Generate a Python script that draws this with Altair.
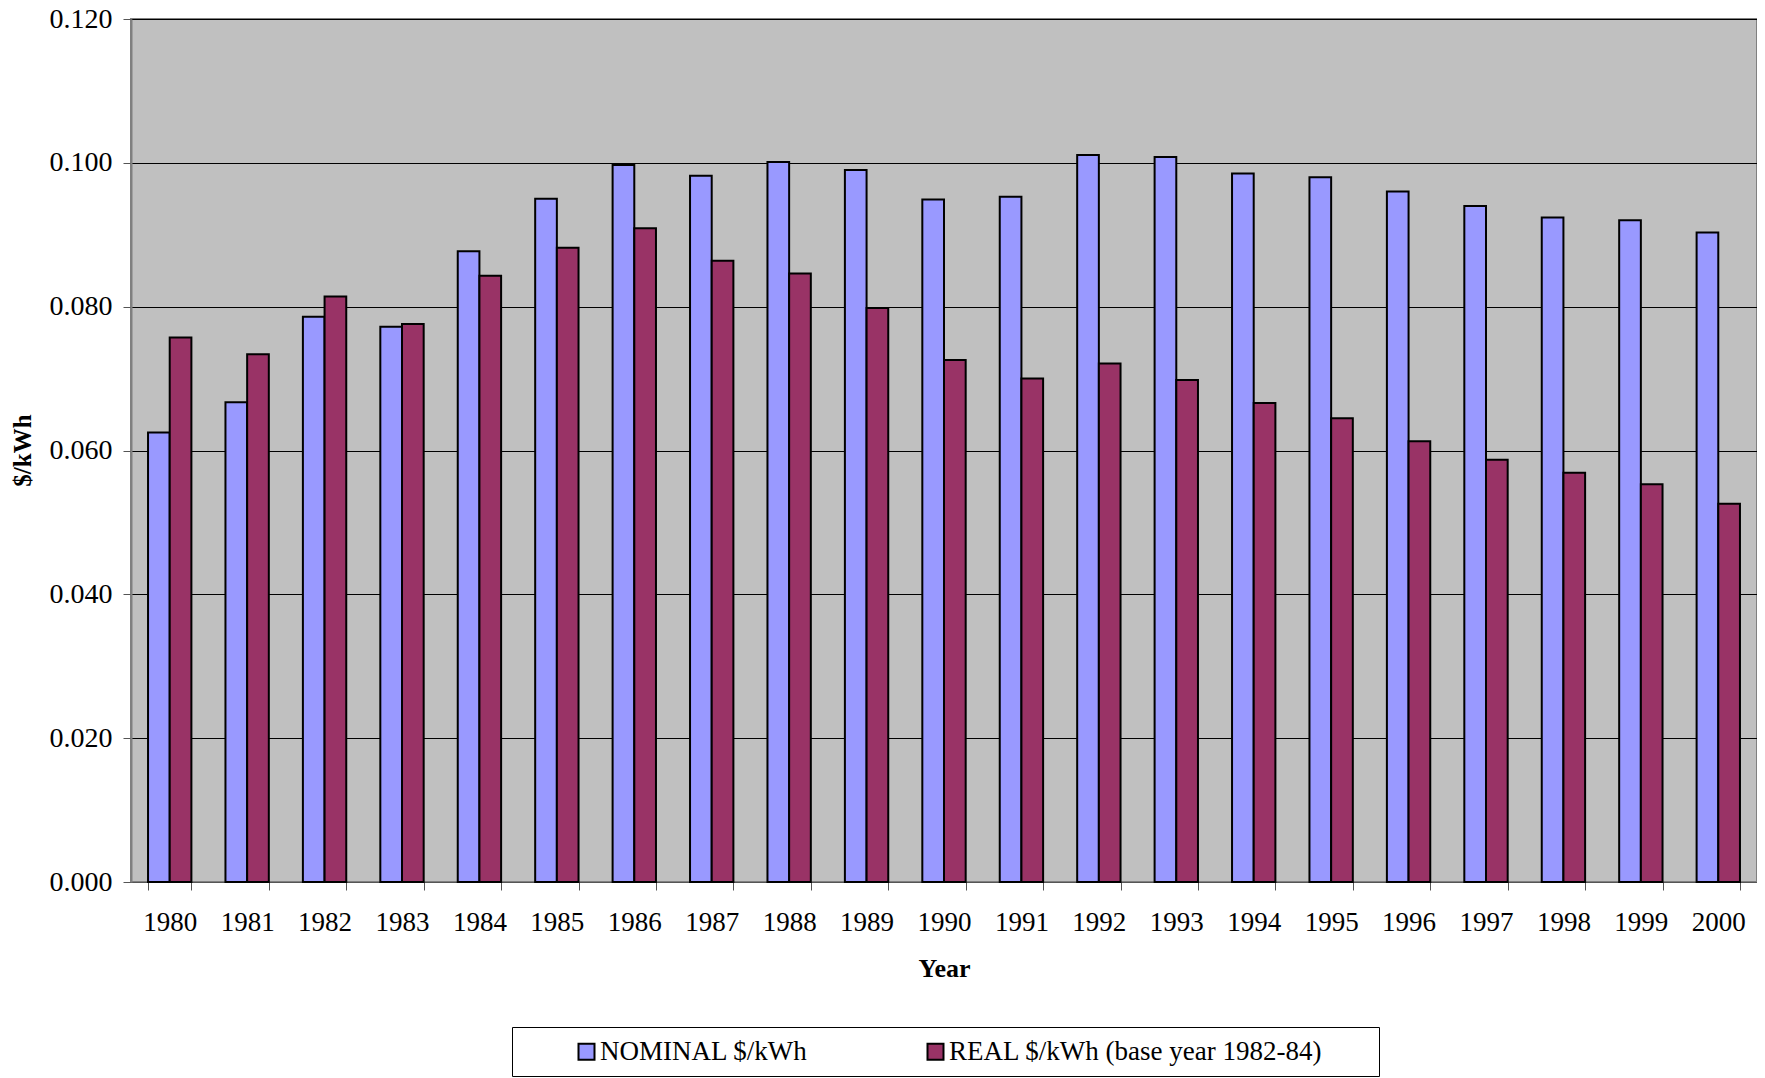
import altair as alt
import pandas as pd

years = [str(y) for y in range(1980, 2001)]
nominal = [0.0625, 0.0667, 0.0786, 0.0772, 0.0877, 0.0950, 0.0997, 0.0982, 0.1001, 0.0990,
           0.0949, 0.0953, 0.1011, 0.1008, 0.0985, 0.0980, 0.0960, 0.0940, 0.0924, 0.0920, 0.0903]
real = [0.0757, 0.0734, 0.0814, 0.0776, 0.0843, 0.0882, 0.0909, 0.0864, 0.0846, 0.0798,
        0.0726, 0.0700, 0.0721, 0.0698, 0.0666, 0.0645, 0.0613, 0.0587, 0.0569, 0.0553, 0.0526]
series = ["NOMINAL $/kWh", "REAL $/kWh (base year 1982-84)"]
colors = ["#9999FF", "#993366"]
y_ticks = [0.0, 0.02, 0.04, 0.06, 0.08, 0.10, 0.12]

rows = []
for i, yr in enumerate(years):
    rows.append({"Year": yr, "Series": series[0], "Value": nominal[i]})
    rows.append({"Year": yr, "Series": series[1], "Value": real[i]})
df = pd.DataFrame(rows)

FONT = "Liberation Serif"

chart = alt.Chart(df).mark_bar(stroke="black", strokeWidth=2).encode(
    x=alt.X("Year:N", sort=years,
            scale=alt.Scale(paddingInner=0.44, paddingOuter=0.22),
            axis=alt.Axis(title="Year", labelAngle=0, tickBand="extent", tickSize=8,
                          tickColor="#555555", domainColor="#555555", domainWidth=1,
                          labelFont=FONT, labelFontSize=27, labelColor="black",
                          labelPadding=19, titleFont=FONT, titleFontSize=26,
                          titleFontWeight="bold", titleColor="black", titlePadding=20)),
    xOffset=alt.XOffset("Series:N", sort=series),
    y=alt.Y("Value:Q", scale=alt.Scale(domain=[0, 0.12], nice=False),
            axis=alt.Axis(title="$/kWh", values=y_ticks, format=".3f", grid=True,
                          gridColor="black", gridWidth=1, tickSize=8, tickColor="#555555",
                          domainColor="#808080", domainWidth=2,
                          labelFont=FONT, labelFontSize=28, labelColor="black", labelPadding=11,
                          titleFont=FONT, titleFontSize=25, titleFontWeight="bold",
                          titleColor="black", titleX=-109, titleY=431,
                          titleAngle=-90, titleBaseline="middle", titleAlign="center")),
    color=alt.Color("Series:N", sort=series,
                    scale=alt.Scale(domain=series, range=colors),
                    legend=alt.Legend(title=" ", titleOrient="right", titlePadding=46,
                                      titleFontSize=10,
                                      orient="none", direction="horizontal",
                                      legendX=381, legendY=1008,
                                      symbolType="square", symbolSize=256,
                                      symbolStrokeColor="black", symbolStrokeWidth=2,
                                      symbolOpacity=1,
                                      labelFont=FONT, labelFontSize=27, labelColor="black",
                                      labelOffset=0, labelLimit=600, columnPadding=64,
                                      padding=11, strokeColor="black", fillColor="white",
                                      symbolOffset=50)),
).properties(
    width=1626, height=863,
    background="white",
    autosize=alt.AutoSizeParams(type="none"),
    padding={"left": 123, "top": 11, "right": 0, "bottom": 196},
).configure_view(
    fill="#C0C0C0", stroke="#808080", strokeWidth=2
)

chart.save("out.html", embed_options={"renderer": "svg", "actions": False})
